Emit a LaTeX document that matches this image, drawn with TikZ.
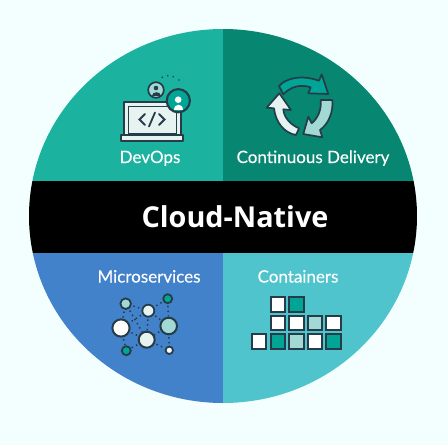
\documentclass[tikz,border=0pt]{standalone}
\usepackage{fontspec}
\setmainfont[RawFeature={embolden=0.25}]{Lato}
\newfontfamily\titlefont{Open Sans}
\definecolor{bgc}{HTML}{F3FFFE}
\definecolor{devc}{HTML}{1BB3A0}
\definecolor{cdc}{HTML}{078672}
\definecolor{msc}{HTML}{4282CA}
\definecolor{conc}{HTML}{4FC4CC}
\definecolor{ink}{HTML}{263C48}
\definecolor{tealc}{HTML}{00A596}
\definecolor{palec}{HTML}{A3D9D5}
\definecolor{lightc}{HTML}{E6F3F1}
\tikzset{x=1pt,y=-1pt,
 lbl/.style={text=white,font=\fontsize{17}{20}\selectfont,inner sep=0pt,anchor=base},
 ttl/.style={text=white,font=\titlefont\bfseries\fontsize{28.8}{32}\selectfont,inner sep=0pt,anchor=base},
 ln/.style={draw=ink,line width=1.7pt,line join=round},
 cell/.style={draw=ink,line width=2pt,minimum size=14.5pt,inner sep=0pt,anchor=north west},
 bub/.style={circle,draw=ink,line width=1.8pt,inner sep=0pt},
 dots/.style={draw=ink,line width=1.5pt,dash pattern=on 1.4pt off 3.4pt,dash phase=3pt}
}
\begin{document}
\begin{tikzpicture}
\useasboundingbox (0,0) rectangle (448,445);
\fill[bgc] (0,0) rectangle (448,445);
\begin{scope}
\clip (223,216) ellipse [x radius=194, y radius=187];
\fill[devc] (20,20) rectangle (223,181);
\fill[cdc] (223,20) rectangle (430,181);
\fill[msc] (20,253) rectangle (223,410);
\fill[conc] (223,253) rectangle (430,410);
\fill[black] (20,181) rectangle (430,253);
\end{scope}
\node[ttl] (title) at (235,227) {Cloud-Native};
\node[lbl] (dev) at (150,163) {DevOps};
\node[lbl] (cd) at (313,163) {Continuous Delivery};
\node[lbl] (ms) at (149,282.5) {Microservices};
\node[lbl] (con) at (298,282.5) {Containers};
% DevOps icon
\draw[ln,line width=2pt,fill=lightc] (123.5,101.5) rectangle (181,135);
\draw[ln,line width=1.5pt,fill=lightc] (128.5,106.5) rectangle (176.5,134);
\draw[ln,line width=2pt,fill=lightc] (120.5,134.5) rectangle (183,141);
\draw[ink,line width=1.8pt,line cap=round,line join=miter] (145,114)--(139.5,119.5)--(145,125) (159,114)--(164.5,119.5)--(159,125) (155,112.5)--(149,126.5);
\draw[ink,line width=1.7pt,fill=palec] (156,90) circle (7.8);
\fill[ink] (156,88) circle (2.3);
\fill[ink] (151.5,95.5) .. controls (151.5,90.5) and (160.5,90.5) .. (160.5,95.5) -- cycle;
\draw[ink,line width=2.1pt,fill=tealc] (178.3,100.7) circle (11.6);
\fill[white] (178.2,99.7) circle (3.3);
\fill[white] (173.7,110) .. controls (173.7,103) and (182.7,103) .. (182.7,110) -- cycle;
\fill[ink] (162.3,77.3) circle (0.9) (167.7,75.7) circle (0.9) (173.3,76.7) circle (0.9) (179,80) circle (0.9);
% CD icon
\draw[ln,fill=tealc] (279,86) .. controls (285,79) and (300,74) .. (319,80.7) -- (321.7,74.3) -- (328.3,94) -- (308.3,93.3) -- (310.7,87.3) .. controls (300,84) and (291,86.5) .. (283.3,94.3) -- cycle;
\draw[ln,fill=palec] (320.7,100) -- (332.3,100) .. controls (333.5,112) and (328.5,124) .. (320,130) -- (322.3,137.3) -- (303.3,134) -- (308.3,116.7) -- (311.7,123.3) .. controls (318,118) and (321.5,110) .. (320.7,100) -- cycle;
\draw[ln,fill=lightc] (296,135) .. controls (284,133) and (275.5,122) .. (274,108.3) -- (266.7,107.7) -- (279.3,93.3) -- (291,110) -- (283.3,109.3) .. controls (284,118) and (291,125) .. (299,128.3) -- cycle;
% Microservices icon
\node[bub,fill=palec,minimum size=10.6pt] (a) at (125.7,303.7) {};
\node[bub,fill=tealc,minimum size=9pt] (b) at (167.7,298.7) {};
\node[bub,fill=lightc,minimum size=12pt] (c) at (148.3,310.7) {};
\node[bub,line width=2pt,fill=white,minimum size=17.2pt] (d) at (121,328) {};
\node[bub,line width=2pt,fill=palec,minimum size=16.6pt] (e) at (168.7,326) {};
\node[bub,line width=2pt,fill=lightc,minimum size=16pt] (f) at (146.7,339.7) {};
\node[bub,fill=tealc,minimum size=9pt] (g) at (126.3,350.7) {};
\node[bub,fill=white,minimum size=7.4pt] (h) at (169.3,350.3) {};
\foreach \p/\q in {a/c,a/d,a/f,b/c,b/e,c/d,c/e,c/f,d/f,d/g,e/f,e/h,f/g,f/h}
  \draw[dots] (\p) -- (\q);
% Containers icon
\foreach \xx/\yy/\cc [count=\i] in {
 269.5/296/white,288/296/tealc,
 269.5/314.5/white,288/314.5/white,306.5/314.5/palec,325/314.5/white,
 250.5/333/white,269.5/333/tealc,288/333/palec,306.5/333/white,325/333/tealc}
  \node[cell,fill=\cc] (box\i) at (\xx,\yy) {};
\end{tikzpicture}
\end{document}
